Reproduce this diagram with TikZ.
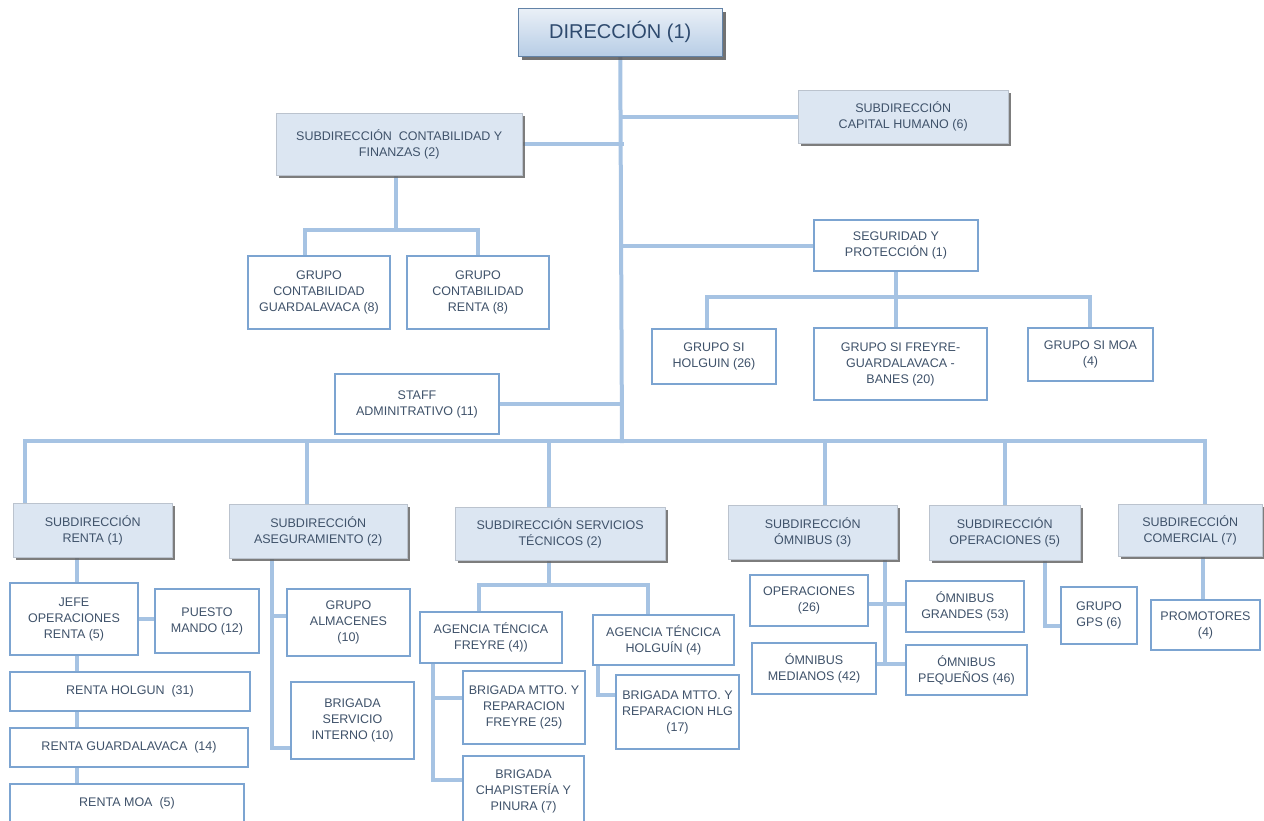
\documentclass[tikz,border=0pt]{standalone}
\usepackage{fontspec}
\setmainfont{Liberation Sans}
\usetikzlibrary{shadows,backgrounds}
\definecolor{lineblue}{HTML}{A6C3E3}
\definecolor{boxborder}{HTML}{7CA4D1}
\definecolor{subfill}{HTML}{DCE6F2}
\definecolor{txt}{HTML}{3F526A}
\definecolor{dirtxt}{HTML}{2E4A6E}
\tikzset{
  conn/.style={draw=lineblue,line width=4pt,line cap=rect,line join=miter},
  base/.style={anchor=north west,align=center,inner sep=2pt,text=txt,
    font=\fontsize{12.5}{16}\selectfont},
  wbox/.style={base,fill=white,draw=boxborder,line width=2pt},
  sbox/.style={base,fill=subfill,draw=subfill!85!black,line width=0.4pt,
    drop shadow={shadow xshift=2.5pt,shadow yshift=-2.5pt,fill=black!60,opacity=0.85}},
  dbox/.style={anchor=north west,align=center,text=dirtxt,
    font=\fontsize{20}{24}\selectfont,
    top color=subfill!60!white,bottom color=boxborder!55!white,
    draw=boxborder!80!black,line width=0.5pt,
    drop shadow={shadow xshift=4pt,shadow yshift=-4pt,fill=black!65,opacity=0.85}},
}
\begin{document}
\begin{tikzpicture}[x=1pt,y=-1pt]
\useasboundingbox (0,0) rectangle (1264,820);
% top level
\node[dbox,minimum width=204pt,minimum height=48pt] (dir) at (518,8) {DIRECCIÓN (1)};
\node[sbox,minimum width=210pt,minimum height=53pt] (ch) at (798,90) {SUBDIRECCIÓN\\CAPITAL HUMANO (6)};
\node[sbox,minimum width=246pt,minimum height=62pt] (cf) at (276,113) {SUBDIRECCIÓN~ CONTABILIDAD Y\\FINANZAS (2)};
\node[wbox,minimum width=142pt,minimum height=73pt] (gcg) at (247,255) {GRUPO\\CONTABILIDAD\\GUARDALAVACA (8)};
\node[wbox,minimum width=142pt,minimum height=73pt] (gcr) at (406,255) {GRUPO\\CONTABILIDAD\\RENTA (8)};
\node[wbox,minimum width=164pt,minimum height=51pt] (sp) at (813,219) {SEGURIDAD Y\\PROTECCIÓN (1)};
\node[wbox,minimum width=124pt,minimum height=55pt] (sih) at (651,328) {GRUPO SI\\HOLGUIN (26)};
\node[wbox,minimum width=173pt,minimum height=72pt] (sif) at (813,327) {GRUPO SI FREYRE-\\GUARDALAVACA -\\BANES (20)};
\node[wbox,minimum width=125pt,minimum height=53pt] (sim) at (1027,327) {GRUPO SI MOA\\(4)};
\node[wbox,minimum width=164pt,minimum height=60pt] (staff) at (334,373) {STAFF\\ADMINITRATIVO (11)};
% level 2
\node[sbox,minimum width=159pt,minimum height=54pt] (sr) at (13,503) {SUBDIRECCIÓN\\RENTA (1)};
\node[sbox,minimum width=178pt,minimum height=54pt] (sa) at (229,504) {SUBDIRECCIÓN\\ASEGURAMIENTO (2)};
\node[sbox,minimum width=210pt,minimum height=53pt] (sst) at (455,507) {SUBDIRECCIÓN SERVICIOS\\TÉCNICOS (2)};
\node[sbox,minimum width=169pt,minimum height=54pt] (so) at (728,505) {SUBDIRECCIÓN\\ÓMNIBUS (3)};
\node[sbox,minimum width=151pt,minimum height=55pt] (sop) at (929,505) {SUBDIRECCIÓN\\OPERACIONES (5)};
\node[sbox,minimum width=144pt,minimum height=52pt] (sc) at (1118,504) {SUBDIRECCIÓN\\COMERCIAL (7)};
% renta
\node[wbox,minimum width=128pt,minimum height=72pt] (jor) at (9,582) {JEFE\\OPERACIONES\\RENTA (5)};
\node[wbox,minimum width=104pt,minimum height=64pt] (pm) at (154,588) {PUESTO\\MANDO (12)};
\node[wbox,minimum width=240pt,minimum height=39pt] (rh) at (9,671) {RENTA HOLGUN~ (31)};
\node[wbox,minimum width=238pt,minimum height=39pt] (rg) at (9,727) {RENTA GUARDALAVACA~ (14)};
\node[wbox,minimum width=234pt,minimum height=38pt] (rm) at (9,783) {RENTA MOA~ (5)};
% aseguramiento
\node[wbox,minimum width=123pt,minimum height=67pt] (ga) at (286,588) {GRUPO\\ALMACENES\\(10)};
\node[wbox,minimum width=123pt,minimum height=77pt] (bsi) at (290,681) {BRIGADA\\SERVICIO\\INTERNO (10)};
% servicios tecnicos
\node[wbox,minimum width=142pt,minimum height=51pt] (atf) at (419,611) {AGENCIA TÉNCICA\\FREYRE (4))};
\node[wbox,minimum width=141pt,minimum height=50pt] (ath) at (592,614) {AGENCIA TÉNCICA\\HOLGUÍN (4)};
\node[wbox,minimum width=122pt,minimum height=73pt] (bmf) at (462,670) {BRIGADA MTTO. Y\\REPARACION\\FREYRE (25)};
\node[wbox,minimum width=121pt,minimum height=70pt] (bcp) at (462,755) {BRIGADA\\CHAPISTERÍA Y\\PINURA (7)};
\node[wbox,minimum width=123pt,minimum height=74pt] (bmh) at (615,674) {BRIGADA MTTO. Y\\REPARACION HLG\\(17)};
% omnibus
\node[wbox,minimum width=118pt,minimum height=51pt] (op26) at (749,574) {OPERACIONES\\(26)};
\node[wbox,minimum width=118pt,minimum height=51pt] (og) at (905,580) {ÓMNIBUS\\GRANDES (53)};
\node[wbox,minimum width=124pt,minimum height=51pt] (om) at (751,642) {ÓMNIBUS\\MEDIANOS (42)};
\node[wbox,minimum width=121pt,minimum height=50pt] (opq) at (905,644) {ÓMNIBUS\\PEQUEÑOS (46)};
% operaciones, comercial
\node[wbox,minimum width=76pt,minimum height=57pt] (gps) at (1060,586) {GRUPO\\GPS (6)};
\node[wbox,minimum width=109pt,minimum height=50pt] (prom) at (1150,599) {PROMOTORES\\(4)};

\begin{scope}[on background layer]
% trunk
\coordinate (tr) at (622,441);
\draw[conn] (dir.south) -- (tr);
\draw[conn] (ch.west) -- (ch.west -| tr);
\draw[conn] (cf.east) -- (cf.east -| tr);
\draw[conn] (sp.west) -- (sp.west -| tr);
\draw[conn] (staff.east) -- (staff.east -| tr);
% main horizontal and drops
\coordinate (d1) at (25,441);
\coordinate (d2) at (307,441);
\coordinate (d3) at (549,441);
\coordinate (d4) at (825,441);
\coordinate (d5) at (1005,441);
\coordinate (d6) at (1205,441);
\draw[conn] (d1) -- (d6);
\draw[conn] (d1) -- (d1 |- sr.north);
\draw[conn] (d2) -- (d2 |- sa.north);
\draw[conn] (d3) -- (d3 |- sst.north);
\draw[conn] (d4) -- (d4 |- so.north);
\draw[conn] (d5) -- (d5 |- sop.north);
\draw[conn] (d6) -- (d6 |- sc.north);
% contabilidad
\coordinate (cfj) at (396,230);
\coordinate (cfl) at (305,230);
\coordinate (cfr) at (478,230);
\draw[conn] (cfj |- cf.south) -- (cfj);
\draw[conn] (cfl) -- (cfr);
\draw[conn] (cfl) -- (cfl |- gcg.north);
\draw[conn] (cfr) -- (cfr |- gcr.north);
% seguridad
\coordinate (spj) at (896,297);
\coordinate (spl) at (707,297);
\coordinate (spr) at (1090,297);
\draw[conn] (spj |- sp.south) -- (spj |- sif.north);
\draw[conn] (spl) -- (spr);
\draw[conn] (spl) -- (spl |- sih.north);
\draw[conn] (spr) -- (spr |- sim.north);
% renta
\coordinate (rx) at (77,600);
\draw[conn] (rx |- sr.south) -- (rx |- jor.north);
\draw[conn] (jor.east) -- (jor.east -| pm.west);
\draw[conn] (rx |- jor.south) -- (rx |- rh.north);
\draw[conn] (rx |- rh.south) -- (rx |- rg.north);
\draw[conn] (rx |- rg.south) -- (rx |- rm.north);
% aseguramiento
\coordinate (ax) at (272,748);
\coordinate (ab) at (272,616);
\draw[conn] (ax |- sa.south) -- (ax) -- (ax -| bsi.west);
\draw[conn] (ab) -- (ab -| ga.west);
% servicios tecnicos
\coordinate (sj) at (549,585);
\coordinate (sl) at (479,585);
\coordinate (srr) at (648,585);
\draw[conn] (sj |- sst.south) -- (sj);
\draw[conn] (sl) -- (srr);
\draw[conn] (sl) -- (sl |- atf.north);
\draw[conn] (srr) -- (srr |- ath.north);
\coordinate (fx) at (433,780);
\coordinate (fb) at (433,698);
\draw[conn] (fx |- atf.south) -- (fx) -- (fx -| bcp.west);
\draw[conn] (fb) -- (fb -| bmf.west);
\coordinate (hx) at (598,695);
\draw[conn] (hx |- ath.south) -- (hx) -- (hx -| bmh.west);
% omnibus
\coordinate (ox) at (885,664);
\coordinate (oy) at (885,604);
\draw[conn] (ox |- so.south) -- (ox);
\draw[conn] (op26.east |- oy) -- (og.west |- oy);
\draw[conn] (om.east |- ox) -- (opq.west |- ox);
% operaciones
\coordinate (gx) at (1045,626);
\draw[conn] (gx |- sop.south) -- (gx) -- (gx -| gps.west);
% comercial
\coordinate (cx) at (1203,580);
\draw[conn] (cx |- sc.south) -- (cx |- prom.north);
\end{scope}
\end{tikzpicture}
\end{document}
